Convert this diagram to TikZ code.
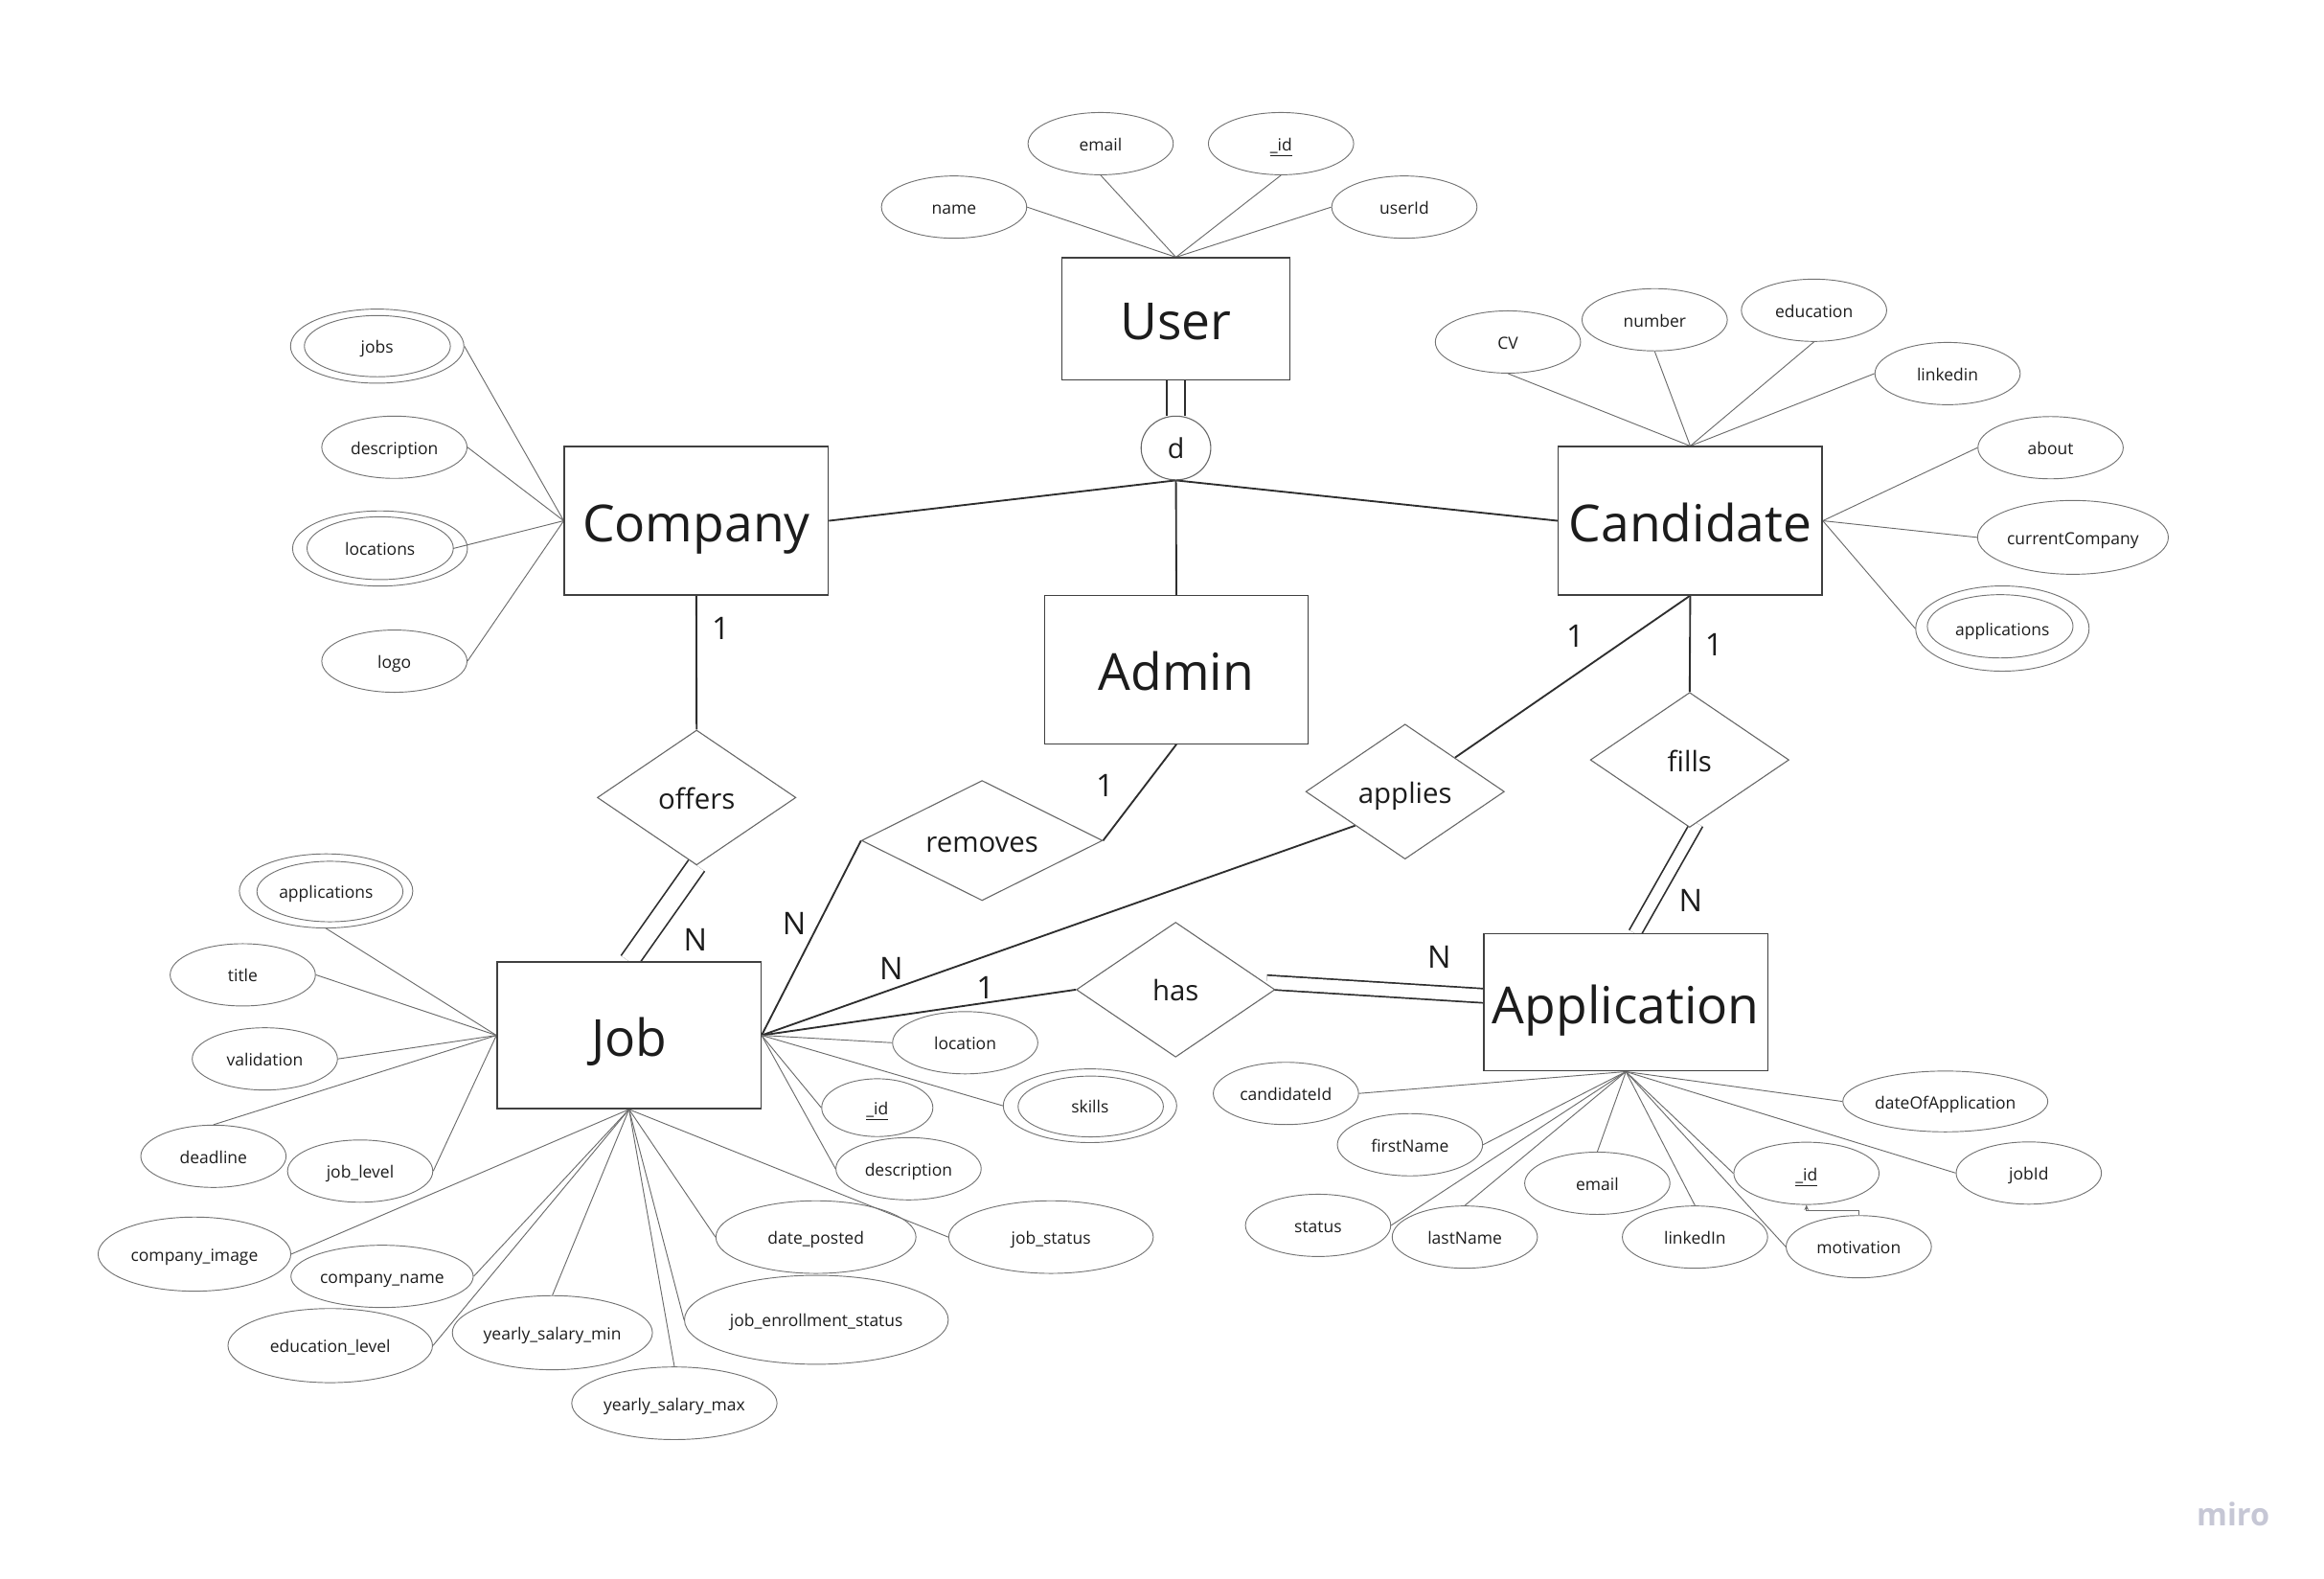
\documentclass[tikz,border=0pt]{standalone}
\usepackage{fontspec}
\setmainfont{Open Sans}
\usetikzlibrary{shapes.geometric,arrows.meta,calc}
\definecolor{txt}{HTML}{1C1C1C}
\definecolor{mirogray}{HTML}{C6C7D5}
\pgfdeclarelayer{bg}
\pgfsetlayers{bg,main}
\begin{document}
\begin{tikzpicture}[x=1pt,y=-1pt,
  ent/.style={rectangle, draw=black!75, line width=0.9pt, fill=white, inner sep=0pt, text=txt, text height=28.3pt, text depth=0pt, font=\fontsize{34.5}{40}\selectfont},
  attr/.style={ellipse, draw=black!55, line width=0.6pt, inner sep=0pt, minimum width=98pt, minimum height=42pt, text=txt, text height=9.7pt, text depth=0pt, font=\fontsize{11.3}{13}\selectfont},
  rel/.style={diamond, aspect=2, draw=black!60, line width=0.7pt, fill=white, inner sep=0pt, minimum width=134pt, minimum height=91pt, text=txt, text height=15.6pt, text depth=0pt, font=\fontsize{19}{22}\selectfont},
  card/.style={text=txt, inner sep=0pt, font=\fontsize{21}{24}\selectfont},
  conn/.style={draw=black!82, line width=1.2pt},
  aline/.style={draw=black!58, line width=0.6pt},
  dconn/.style={draw=black!82, line width=1.1pt, double=white, double distance=#1},
  innerell/.style={draw=black!55, line width=0.6pt}
]
\path[use as bounding box] (0,0) rectangle (1568,1065);

% ---------- entities ----------
\node[ent, minimum width=153.7pt, minimum height=82.5pt] (User) at (793.4,215.2) {User};
\node[ent, minimum width=178pt, minimum height=100pt] (Company) at (469.8,351.3) {Company};
\node[ent, minimum width=178pt, minimum height=100pt] (Candidate) at (1140.4,351.3) {Candidate};
\node[ent, minimum width=177.4pt, minimum height=100pt] (Admin) at (793.7,451.7) {Admin};
\node[ent, minimum width=178pt, minimum height=99pt] (Job) at (424.4,698.4) {Job};
\node[ent, minimum width=191.5pt, minimum height=92.5pt] (Application) at (1097,676.2) {Application};

\node[ellipse, draw=black!60, line width=0.7pt, fill=white, minimum width=47pt, minimum height=43pt, inner sep=0pt, text=txt, font=\fontsize{18.5}{22}\selectfont] (d) at (793.4,302.2) {d};

% ---------- relationships ----------
\node[rel] (offers) at (470,538) {offers};
\node[rel, minimum width=162.6pt, minimum height=81pt] (removes) at (662.6,567) {removes};
\node[rel] (applies) at (948,534) {applies};
\node[rel] (fills) at (1140,512.6) {fills};
\node[rel] (has) at (793.2,667.6) {has};

% ---------- User attributes ----------
\node[attr] (uname) at (643.7,139.7) {name};
\node[attr] (uemail) at (742.6,96.9) {email};
\node[attr] (uid) at (864.3,96.9) {\underline{\_id}};
\node[attr] (uuserid) at (947.5,139.7) {userId};

% ---------- Company attributes ----------
\node[attr, minimum width=117pt, minimum height=50pt] (cjobs) at (254.5,233.5) {jobs};
\draw[innerell] (254.6,233.5) ellipse [x radius=49.25pt, y radius=20.65pt];
\node[attr] (cdesc) at (266.1,301.7) {description};
\node[attr, minimum width=118pt, minimum height=50.7pt] (cloc) at (256.4,370) {locations};
\draw[innerell] (256.5,369.8) ellipse [x radius=49.35pt, y radius=21.2pt];
\node[attr] (clogo) at (266.1,446) {logo};

% ---------- Candidate attributes ----------
\node[attr] (ccv) at (1017.4,230.7) {CV};
\node[attr] (cnum) at (1116.4,215.7) {number};
\node[attr] (cedu) at (1223.9,209.3) {education};
\node[attr] (clink) at (1314,252) {linkedin};
\node[attr] (cabout) at (1383.5,302) {about};
\node[attr, minimum width=128.7pt, minimum height=49.8pt] (ccur) at (1398.6,362.5) {currentCompany};
\node[attr, minimum width=117pt, minimum height=57.5pt] (capps) at (1351,424) {applications};
\draw[innerell] (1349.5,422.5) ellipse [x radius=49.15pt, y radius=21.35pt];

% ---------- Job attributes ----------
\node[attr, minimum width=117pt, minimum height=50pt] (japps) at (220,601) {applications};
\draw[innerell] (222.6,601.4) ellipse [x radius=49.25pt, y radius=20.4pt];
\node[attr] (jtitle) at (163.8,657.6) {title};
\node[attr] (jvalid) at (178.7,714.3) {validation};
\node[attr] (jdead) at (144,780) {deadline};
\node[attr] (jlevel) at (243,790) {job\_level};
\node[attr, minimum width=130pt, minimum height=50pt] (jcimg) at (131.2,846) {company\_image};
\node[attr, minimum width=123pt, minimum height=42pt] (jcname) at (257.8,861) {company\_name};
\node[attr, minimum width=138pt, minimum height=50pt] (jedu) at (222.8,907.7) {education\_level};
\node[attr, minimum width=135pt, minimum height=50pt] (jsmin) at (372.7,899) {yearly\_salary\_min};
\node[attr, minimum width=138.5pt, minimum height=49pt] (jsmax) at (455,946.6) {yearly\_salary\_max};
\node[attr, minimum width=178pt, minimum height=60pt] (jenroll) at (550.8,890.3) {job\_enrollment\_status};
\node[attr, minimum width=135pt, minimum height=49pt] (jdate) at (550.5,834.5) {date\_posted};
\node[attr, minimum width=138pt, minimum height=49pt] (jstatus) at (709.1,834.5) {job\_status};
\node[attr] (jloc) at (651.2,703.4) {location};
\node[attr, minimum width=75pt, minimum height=39pt] (jid) at (591.9,747.2) {\underline{\_id}};
\node[attr, minimum width=117pt, minimum height=49.7pt] (jskills) at (735.4,745.9) {skills};
\draw[innerell] (735.9,746.4) ellipse [x radius=49pt, y radius=20.5pt];
\node[attr] (jdesc) at (613,788.4) {description};

% ---------- Application attributes ----------
\node[attr] (acand) at (867.6,737.6) {candidateId};
\node[attr] (afirst) at (951.3,772.2) {firstName};
\node[attr] (aemail) at (1077.7,798.2) {email};
\node[attr] (astatus) at (889.3,826.6) {status};
\node[attr] (alast) at (988.3,834.5) {lastName};
\node[attr] (alink) at (1143.6,834.5) {linkedIn};
\node[attr] (aid) at (1218.8,791.5) {\underline{\_id}};
\node[attr] (amot) at (1254.1,841) {motivation};
\node[attr, minimum width=138.3pt, minimum height=41pt] (adate) at (1312.5,743) {dateOfApplication};
\node[attr] (ajob) at (1368.8,791.3) {jobId};

% ---------- cardinalities ----------
\node[card] (k1) at (486.3,424) {1};
\node[card] (k2) at (469.2,633.8) {N};
\node[card] (k3) at (745.5,529.8) {1};
\node[card] (k4) at (535.8,623) {N};
\node[card] (k5) at (1062.9,429.4) {1};
\node[card] (k6) at (601.4,653.4) {N};
\node[card] (k7) at (1156.3,435.2) {1};
\node[card] (k8) at (1140.6,607.2) {N};
\node[card] (k9) at (664.8,666.5) {1};
\node[card] (k10) at (971,645.5) {N};

% ---------- miro mark ----------
\node[anchor=base, text=mirogray, inner sep=0pt, font=\fontsize{21}{24}\selectfont\bfseries] (miro) at (1506.7,1029) {miro};

% ---------- connectors ----------
\begin{pgfonlayer}{bg}
\draw[dconn=11.2pt] (User.south) -- (d.north);
\draw[conn] (d.south) -- (Company.east);
\draw[conn] (d.south) -- (Admin.north);
\draw[conn] (d.south) -- (Candidate.west);
\draw[conn] (Company.south) -- (offers.north);
\draw[dconn=12pt] (offers.south) -- (Job.north);
\draw[conn] (Admin.south) -- (removes.east);
\draw[conn] (removes.west) -- (Job.east);
\draw[conn] (Candidate.south) -- ($(applies.north)!0.5!(applies.east)$);
\draw[conn] ($(applies.west)!0.5!(applies.south)$) -- (Job.east);
\draw[conn] (Candidate.south) -- (fills.north);
\draw[dconn=7.5pt] ($(fills.south)+(5,-3)$) -- ($(Application.north)+(6,0)$);
\draw[conn] (has.west) -- (Job.east);
\draw[dconn=8.5pt] ($(has.east)+(-6,-5)$) -- ($(Application.west)+(0,-4.5)$);

% User
\draw[aline] (uname.east) -- (User.north);
\draw[aline] (uemail.south) -- (User.north);
\draw[aline] (uid.south) -- (User.north);
\draw[aline] (uuserid.west) -- (User.north);
% Company
\draw[aline] (cjobs.east) -- (Company.west);
\draw[aline] (cdesc.east) -- (Company.west);
\draw[aline] ($(cloc.center)+(49.35,0)$) -- (Company.west);
\draw[aline] (clogo.east) -- (Company.west);
% Candidate
\draw[aline] (ccv.south) -- (Candidate.north);
\draw[aline] (cnum.south) -- (Candidate.north);
\draw[aline] (cedu.south) -- (Candidate.north);
\draw[aline] (clink.west) -- (Candidate.north);
\draw[aline] (cabout.west) -- (Candidate.east);
\draw[aline] (ccur.west) -- (Candidate.east);
\draw[aline] (capps.west) -- (Candidate.east);
% Job
\draw[aline] (japps.south) -- (Job.west);
\draw[aline] (jtitle.east) -- (Job.west);
\draw[aline] (jvalid.east) -- (Job.west);
\draw[aline] (jdead.north) -- (Job.west);
\draw[aline] (jlevel.east) -- (Job.west);
\draw[aline] (jcimg.east) -- (Job.south);
\draw[aline] (jcname.east) -- (Job.south);
\draw[aline] (jedu.east) -- (Job.south);
\draw[aline] (jsmin.north) -- (Job.south);
\draw[aline] (jsmax.north) -- (Job.south);
\draw[aline] (jenroll.west) -- (Job.south);
\draw[aline] (jdate.west) -- (Job.south);
\draw[aline] (jstatus.west) -- (Job.south);
\draw[aline] (jloc.west) -- (Job.east);
\draw[aline] (jid.west) -- (Job.east);
\draw[aline] (jskills.west) -- (Job.east);
\draw[aline] (jdesc.west) -- (Job.east);
% Application
\draw[aline] (acand.east) -- (Application.south);
\draw[aline] (afirst.east) -- (Application.south);
\draw[aline] (aemail.north) -- (Application.south);
\draw[aline] (astatus.east) -- (Application.south);
\draw[aline] (alast.north) -- (Application.south);
\draw[aline] (alink.north) -- (Application.south);
\draw[aline] (aid.west) -- (Application.south);
\draw[aline] (amot.west) -- (Application.south);
\draw[aline] (adate.west) -- (Application.south);
\draw[aline] (ajob.west) -- (Application.south);
\draw[aline, -{Stealth[length=3.5pt, width=3pt]}] (amot.north) -- ++(0,-3) -| (aid.south);
\end{pgfonlayer}
\end{tikzpicture}
\end{document}
